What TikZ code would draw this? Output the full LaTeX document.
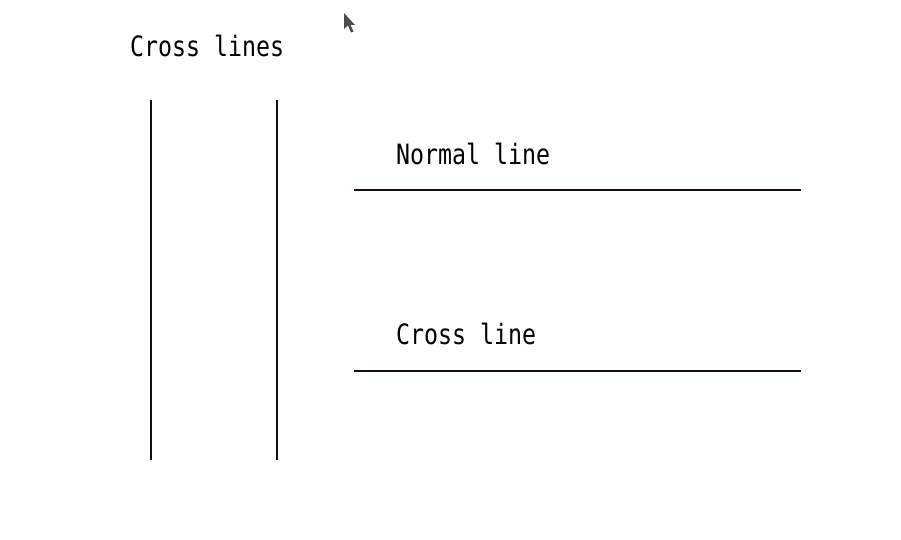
\documentclass[tikz,border=0pt]{standalone}
\usepackage{tikz}
\usepackage{xcolor}
\usepackage{fontspec}
\newfontfamily\linefont[FakeStretch=0.83]{DejaVu Sans Mono}
\definecolor{inkc}{rgb}{0.1,0.05,0.05}
\definecolor{pointerg}{rgb}{0.3,0.3,0.3}
\begin{document}
\begin{tikzpicture}[x=1pt,y=-1pt]
\useasboundingbox (0,0) rectangle (901,540);
\tikzset{label/.style={anchor=base west,inner sep=0pt,font=\linefont\fontsize{28}{30}\selectfont,text=black},
  rule/.style={draw=inkc,line width=2pt}}
\node[label] (title) at (130,56.5) {Cross lines};
  \node[label] (normaltext) at (396,164.5) {Normal line};
  \node[label] (crosstext) at (396,344) {Cross line};
\coordinate (v1t) at (151,100);
  \coordinate (v1b) at (151,460);
  \coordinate (v2t) at (277,100);
  \coordinate (v2b) at (277,460);
  \coordinate (n1) at (354,190);
  \coordinate (n2) at (801,190);
  \coordinate (c1) at (354,371);
  \coordinate (c2) at (801,371);
\draw[rule] (v1t) to (v1b);
\draw[rule] (v2t) to (v2b);
\draw[rule] (n1) to (n2);
\draw[rule] (c1) to (c2);
% pointer
\fill[pointerg] (344,13) -- (344,29) -- (348,25.5) -- (351,32.5) -- (353.5,31.5) -- (350.5,25) -- (355,25) -- cycle;
\end{tikzpicture}
\end{document}
